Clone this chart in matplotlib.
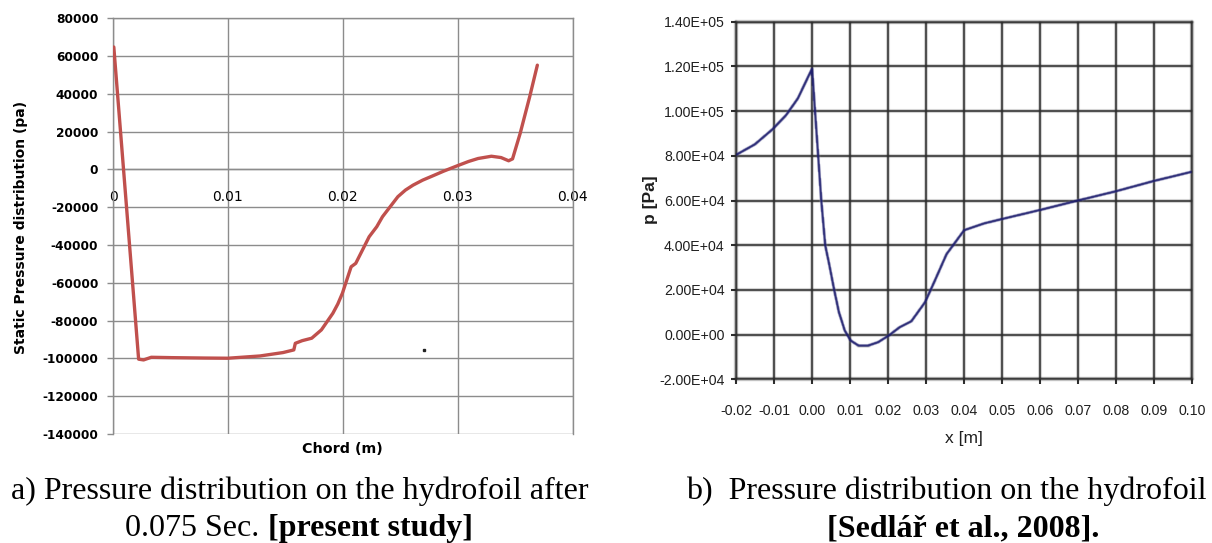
import numpy as np
import matplotlib
matplotlib.use("Agg")
import matplotlib.pyplot as plt

# ---- (a) present study: static pressure along the chord ----
chord_m = [0.00007, 0.00223, 0.00266, 0.00333, 0.0052, 0.0080, 0.0100, 0.0128,
           0.0148, 0.01574, 0.01587, 0.01647, 0.0173, 0.01814, 0.01864, 0.01914,
           0.01957, 0.01997, 0.02073, 0.02113, 0.0223, 0.02296, 0.02346, 0.02413,
           0.0248, 0.02546, 0.02612, 0.02696, 0.02779, 0.02879, 0.02995, 0.03095,
           0.03178, 0.03294, 0.03378, 0.03444, 0.03478, 0.03544, 0.03627, 0.03694]
static_pa = [64800, -100400, -100800, -99400, -99600, -99800, -99900, -98700,
             -96900, -95500, -92000, -90600, -89300, -84900, -80500, -76100,
             -71200, -65500, -51500, -49700, -35600, -30300, -25000, -19700,
             -14400, -10900, -8300, -5640, -3500, -880, 1900, 4230,
             5800, 7000, 6300, 4600, 5600, 19000, 38400, 55200]
stray_x = [0.02705]
stray_y = [-95600]

left_xticks = [0.0, 0.01, 0.02, 0.03, 0.04]
left_xticklabels = ["0", "0.01", "0.02", "0.03", "0.04"]
left_yticks = list(range(-140000, 80001, 20000))

# ---- (b) Sedlar et al., 2008 ----
ref_x = [-0.02, -0.01506, -0.01043, -0.00683, -0.00374, 0.0, 0.00244, 0.00347,
         0.0045, 0.00583, 0.00707, 0.00861, 0.01015, 0.01221, 0.01478, 0.01736,
         0.02014, 0.02302, 0.0261, 0.0297, 0.03228, 0.03537, 0.04, 0.04514,
         0.04977, 0.06007, 0.07015, 0.07962, 0.08991, 0.1]
ref_p = [80400, 85100, 91800, 98200, 105650, 119000, 59800, 39900,
         31550, 19940, 9970, 1790, -2680, -4900, -4900, -3420,
         -450, 3270, 5950, 14430, 24100, 36000, 46700, 49700,
         51640, 55800, 60100, 64000, 68750, 72900]

right_xticks = [-0.02, -0.01, 0.0, 0.01, 0.02, 0.03, 0.04, 0.05, 0.06,
                0.07, 0.08, 0.09, 0.10]
right_yticks = list(range(-20000, 140001, 20000))

W, H = 1212, 543
fig = plt.figure(figsize=(W / 100, H / 100), dpi=100)
fig.patch.set_facecolor("white")


def frac_box(x0, y0, x1, y1):
    return [x0 / W, 1 - y1 / H, (x1 - x0) / W, (y1 - y0) / H]


class SoftBlur:
    """Gaussian blur used as an Agg filter on individual artists."""

    def __init__(self, sigma):
        self.sigma = sigma

    def __call__(self, im, dpi):
        pad = int(3 * self.sigma) + 1
        ny, nx, depth = im.shape
        src = np.zeros((ny + 2 * pad, nx + 2 * pad, depth))
        src[pad:-pad, pad:-pad, :] = im
        k = np.exp(-0.5 * (np.arange(-pad, pad + 1) / self.sigma) ** 2)
        k /= k.sum()
        out = np.apply_along_axis(lambda v: np.convolve(v, k, mode="same"), 0, src)
        out = np.apply_along_axis(lambda v: np.convolve(v, k, mode="same"), 1, out)
        return out, -pad, -pad


# ---------------- left chart ----------------
grid_l = "#8c8c8c"
axL = fig.add_axes(frac_box(113, 18.3, 572.5, 434))
axL.plot(chord_m, static_pa, color="#c0504d", lw=2.4,
         solid_joinstyle="round", solid_capstyle="round", zorder=3)
axL.plot(stray_x, stray_y, "s", color="#222222", ms=1.6, zorder=3)
axL.set_xlim(0, 0.04)
axL.set_ylim(-140000, 80000)
axL.set_xticks(left_xticks, labels=left_xticklabels,
               fontweight="bold", fontsize=8.7, family="DejaVu Sans")
axL.set_yticks(left_yticks, labels=[str(v) for v in left_yticks],
               fontweight="bold", fontsize=8.7, family="DejaVu Sans")
axL.grid(True, color=grid_l, lw=1.0)
axL.set_axisbelow(True)
for s in axL.spines.values():
    s.set_color(grid_l)
    s.set_linewidth(1.0)
axL.spines["bottom"].set_position(("data", 0))
axL.tick_params(axis="y", direction="out", length=4.3, width=1.0,
                color=grid_l, pad=6.3)
axL.tick_params(axis="x", length=0, pad=15)

fig.text(21.5 / W, 1 - 227 / H, "Static Pressure distribution (pa)",
         rotation=90, ha="center", va="center", fontsize=10,
         fontweight="bold", family="DejaVu Sans")
fig.text(342 / W, 1 - 449 / H, "Chord (m)", ha="center", va="center",
         fontsize=10.3, fontweight="bold", family="DejaVu Sans")

# ---------------- right chart ----------------
sans = ["Liberation Sans", "DejaVu Sans"]
grid_r = "#2e2e2e"
txt_r = "#1e1e1e"
blur = SoftBlur(0.6)
axR = fig.add_axes(frac_box(736, 21.7, 1192.3, 379.3))
line_r, = axR.plot(ref_x, ref_p, color="#1e1e6e", lw=1.8, zorder=3)
axR.set_xlim(-0.02, 0.10)
axR.set_ylim(-20000, 140000)
axR.set_xticks(right_xticks, labels=[f"{v:.2f}" for v in right_xticks],
               fontsize=10.2, family=sans, color=txt_r)
axR.set_yticks(right_yticks, labels=[f"{v:.2E}" for v in right_yticks],
               fontsize=10.2, family=sans, color=txt_r)
axR.grid(True, color=grid_r, lw=1.5)
axR.set_axisbelow(True)
for s in axR.spines.values():
    s.set_color(grid_r)
    s.set_linewidth(1.5)
axR.tick_params(axis="both", direction="out", length=3.6, width=1.5,
                color=grid_r)
axR.tick_params(axis="x", pad=14)
axR.tick_params(axis="y", pad=4.5)

fig.text(650 / W, 1 - 200 / H, "p [Pa]", rotation=90, ha="center",
         va="center", fontsize=12.5, fontweight="bold", family=sans,
         color=txt_r)
fig.text(964 / W, 1 - 439 / H, "x [m]", ha="center", va="center",
         fontsize=12.5, family=sans, color=txt_r)

# soften the lines of the scanned chart
soft = [line_r]
soft += axR.get_xgridlines() + axR.get_ygridlines()
soft += list(axR.spines.values())
for a in soft:
    a.set_agg_filter(blur)

# ---------------- captions ----------------
serif = ["Liberation Serif", "DejaVu Serif"]
cap_size = 23
fig.text(300 / W, 1 - 499 / H, "a) Pressure distribution on the hydrofoil after",
         ha="center", va="baseline", fontsize=cap_size, family=serif)
fig.text(946 / W, 1 - 499 / H, "b)  Pressure distribution on the hydrofoil",
         ha="center", va="baseline", fontsize=cap_size, family=serif)


def mixed_line(cx, base_y, parts):
    """Draw consecutive text pieces (text, weight) centred on cx."""
    fig.canvas.draw()
    r = fig.canvas.get_renderer()
    items = []
    for txt, wt in parts:
        t = fig.text(0, 1 - base_y / H, txt, ha="left", va="baseline",
                     fontsize=cap_size, family=serif, fontweight=wt)
        items.append(t)
    widths = [t.get_window_extent(renderer=r).width for t in items]
    x = cx - sum(widths) / 2
    for t, w in zip(items, widths):
        t.set_x(x / W)
        x += w


mixed_line(299, 536, [("0.075 Sec.\u00a0", "normal"), ("[present study]", "bold")])
mixed_line(963, 536, [("[Sedlář et al., 2008].", "bold")])

fig.savefig("out.png", dpi=100, facecolor="white")
